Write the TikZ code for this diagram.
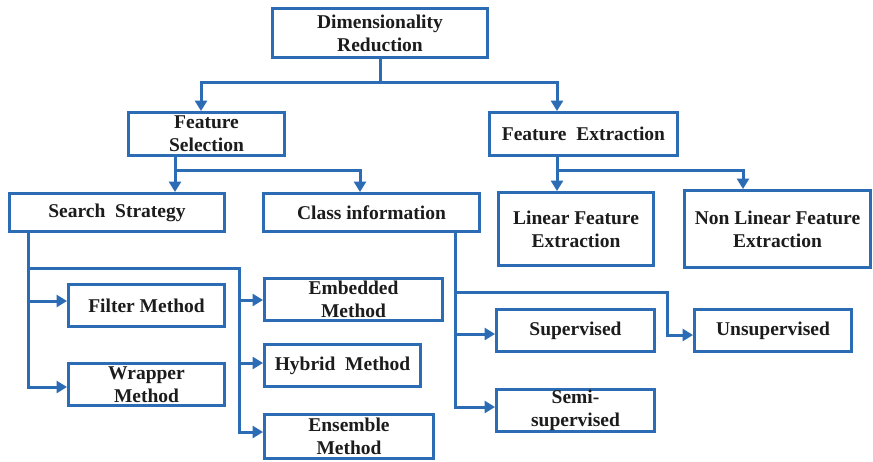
\documentclass[tikz,border=0pt]{standalone}
\usepackage{fontspec}
\setmainfont{Liberation Serif}
\usetikzlibrary{arrows.meta}
\definecolor{flowblue}{HTML}{2C6CB4}
\definecolor{inkgray}{HTML}{1C1C1C}
\begin{document}
\begin{tikzpicture}[x=1pt,y=-1pt,
  blk/.style={draw=flowblue, line width=3.4pt, fill=white, inner sep=0pt,
    align=center, text=inkgray,
    font=\fontsize{19.5}{23}\selectfont\bfseries},
  conn/.style={draw=flowblue, line width=3pt},
  arr/.style={conn, -{Triangle[length=10.5pt,width=12pt]}}]
\useasboundingbox (0,0) rectangle (873,461);

% boxes
\node[blk, minimum width=214.5pt, minimum height=48.5pt] (dr) at (380,33) {Dimensionality\\Reduction};
\node[blk, minimum width=155.5pt, minimum height=42.5pt] (fs) at (206.5,134) {Feature\\Selection};
\node[blk, minimum width=187.5pt, minimum height=42.5pt] (fe) at (583.5,134) {Feature\ \ Extraction};
\node[blk, minimum width=214.5pt, minimum height=37.5pt] (ss) at (117,212.5) {Search\ \ Strategy};
\node[blk, minimum width=215.5pt, minimum height=37.5pt] (ci) at (371.5,212.5) {Class information};
\node[blk, minimum width=154.5pt, minimum height=72.5pt] (lin) at (576,229) {Linear Feature\\Extraction};
\node[blk, minimum width=185.5pt, minimum height=76.5pt] (nl) at (777.5,229) {Non Linear Feature\\Extraction};
\node[blk, minimum width=155.5pt, minimum height=41.5pt] (fm) at (146.5,305.5) {Filter Method};
\node[blk, minimum width=155.5pt, minimum height=41.5pt] (wm) at (146.5,384.5) {Wrapper\\Method};
\node[blk, minimum width=177.5pt, minimum height=41.5pt] (em) at (353.5,299.5) {Embedded\\Method};
\node[blk, minimum width=155.5pt, minimum height=41.5pt] (hm) at (342.5,365.5) {Hybrid\ \ Method};
\node[blk, minimum width=168.5pt, minimum height=43.5pt] (en) at (349,436.5) {Ensemble\\Method};
\node[blk, minimum width=157.5pt, minimum height=41.5pt] (sup) at (575.5,330.5) {Supervised};
\node[blk, minimum width=157.5pt, minimum height=41.5pt] (semi) at (575.5,410.5) {Semi-\\supervised};
\node[blk, minimum width=156.5pt, minimum height=41.5pt] (un) at (773,330.5) {Unsupervised};

% junction points
\coordinate (dj) at (380,82);
\coordinate (fsj) at (175,170);
\coordinate (fej) at (557,170);
\coordinate (sf) at (28,301);
\coordinate (sh) at (28,268);
\coordinate (sv) at (239,268);
\coordinate (se) at (239,300);
\coordinate (shy) at (239,363);
\coordinate (cs) at (455,334);
\coordinate (cu) at (455,292);
\coordinate (cu2) at (667,292);

% top level
\draw[conn] (dr.south) -- (dj);
\draw[arr] (dj) -| ([xshift=-5.5pt]fs.north);
\draw[arr] (dj) -| ([xshift=-26.5pt]fe.north);

% feature selection
\draw[conn] ([xshift=-31.5pt]fs.south) -- (fsj);
\draw[arr] (fsj) -- (fsj |- ss.north);
\draw[arr] (fsj) -| ([xshift=-11.5pt]ci.north);

% feature extraction
\draw[conn] ([xshift=-26.5pt]fe.south) -- (fej);
\draw[arr] (fej) -- (fej |- lin.north);
\draw[arr] (fej) -| ([xshift=-34.5pt]nl.north);

% search strategy
\draw[arr] ([xshift=-89pt]ss.south) |- ([yshift=-2.5pt]wm.west);
\draw[arr] (sf) -- (sf -| fm.west);
\draw[arr] (sh) -- (sv) |- ([yshift=4.5pt]en.west);
\draw[arr] (se) -- (se -| em.west);
\draw[arr] (shy) -- (shy -| hm.west);

% class information
\draw[arr] ([xshift=83.5pt]ci.south) |- ([yshift=3.5pt]semi.west);
\draw[arr] (cs) -- (cs -| sup.west);
\draw[arr] (cu) -- (cu2) |- ([yshift=-4.5pt]un.west);
\end{tikzpicture}
\end{document}
